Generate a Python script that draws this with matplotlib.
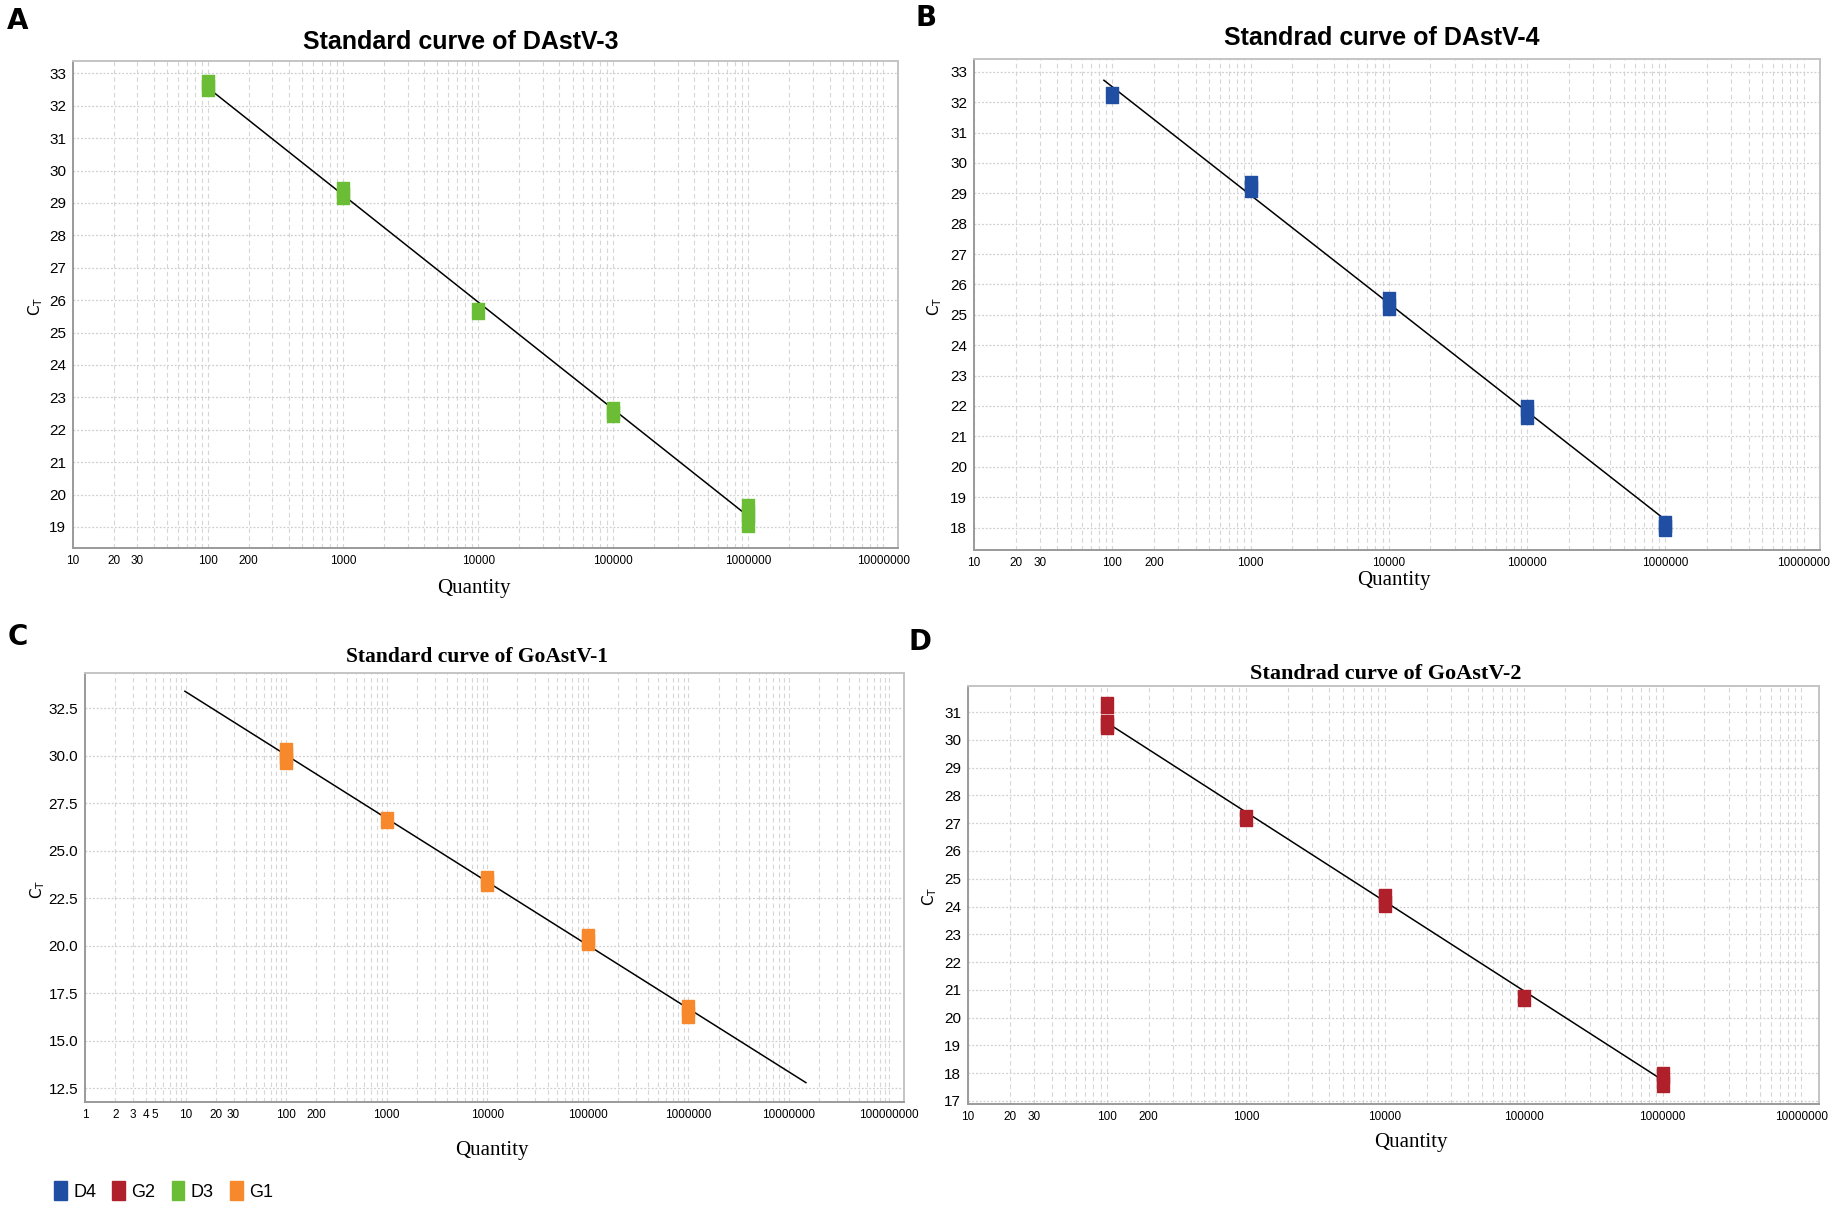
import numpy as np
import matplotlib
matplotlib.use("Agg")
import matplotlib.pyplot as plt
from matplotlib.patches import Patch
from matplotlib.ticker import FixedLocator, LogLocator, NullFormatter

W, H = 1835, 1205
NARROW = ["Liberation Sans Narrow", "Liberation Sans", "DejaVu Sans"]
SERIF = ["Liberation Serif", "DejaVu Serif"]

# ---- data ------------------------------------------------------------------
quantities = [1e2, 1e3, 1e4, 1e5, 1e6]

ct_d3 = [[32.55, 32.7], [29.2, 29.4], [25.65], [22.5, 22.6], [19.1, 19.4, 19.6]]
ct_d4 = [[32.25], [29.15, 29.3], [25.27, 25.5], [21.67, 21.94], [18.0, 18.1]]
ct_g1 = [[29.75, 30.0, 30.25], [26.62], [23.3, 23.5], [20.2, 20.45], [16.35, 16.75]]
ct_g2 = [[30.5, 30.62, 31.25], [27.2], [24.1, 24.35], [20.7], [17.6, 17.95]]

# fitted standard lines: (x start, x end), (ct start, ct end)
fit_d3 = ([1e2, 1e6], [32.55, 19.33])
fit_d4 = ([87, 1e6], [32.72, 18.25])
fit_g1 = ([9.85, 1.48e7], [33.4, 12.8])
fit_g2 = ([1e2, 1e6], [30.62, 17.75])

colors = {"D4": "#1f4ea3", "G2": "#b0202b", "D3": "#6abd35", "G1": "#f7892c"}

xlabels_10 = [10, 20, 30, 100, 200, 1000, 10000, 100000, 1000000, 10000000]
xlabels_1 = [1, 2, 3, 4, 5, 10, 20, 30, 100, 200, 1000, 10000, 100000,
             1000000, 10000000, 100000000]

# marker: narrow upright rectangle
rect = [(-0.4, -0.5), (0.4, -0.5), (0.4, 0.5), (-0.4, 0.5), (-0.4, -0.5)]


def px_box(left, top, right, bottom):
    return [left / W, 1 - bottom / H, (right - left) / W, (bottom - top) / H]


def draw_panel(ax, cts, fit, color, xlim, ylim, yticks, yfmt, xlabs):
    for q, vals in zip(quantities, cts):
        ax.plot([q] * len(vals), vals, linestyle="none", marker=rect,
                markersize=11.5, color=color, markeredgecolor=color, zorder=3)
    ax.plot(fit[0], fit[1], color="black", lw=1.1, zorder=2)
    ax.set_xscale("log")
    ax.set_xlim(*xlim)
    ax.set_ylim(*ylim)
    ax.xaxis.set_major_locator(FixedLocator(xlabs))
    ax.set_xticklabels([str(v) for v in xlabs], family=NARROW, fontsize=8.5)
    ax.xaxis.set_minor_locator(LogLocator(base=10, subs=np.arange(1, 10)))
    ax.xaxis.set_minor_formatter(NullFormatter())
    ax.set_yticks(yticks)
    ax.set_yticklabels([yfmt.format(v) for v in yticks], family=NARROW, fontsize=11)
    ax.tick_params(axis="both", which="both", length=0, pad=5)
    ax.grid(True, axis="x", which="both", color="#d6d6d6", lw=0.8, ls=(0, (4, 3)))
    ax.grid(True, axis="y", which="major", color="#cfcfcf", lw=0.9, ls=(0, (1.5, 1.5)))
    ax.set_axisbelow(True)
    for s in ["top", "right"]:
        ax.spines[s].set_color("#c4c4c4")
        ax.spines[s].set_linewidth(1.4)
    for s in ["bottom", "left"]:
        ax.spines[s].set_color("#9a9a9a")
        ax.spines[s].set_linewidth(1.4)


fig = plt.figure(figsize=(W / 100, H / 100), dpi=100)

ax_a = fig.add_axes(px_box(73, 61, 898, 548))
draw_panel(ax_a, ct_d3, fit_d3, colors["D3"], (10, 10 ** 7.109), (18.35, 33.38),
           list(range(19, 34)), "{:d}", xlabels_10)

ax_b = fig.add_axes(px_box(974, 59, 1820, 550))
draw_panel(ax_b, ct_d4, fit_d4, colors["D4"], (10, 10 ** 7.118), (17.26, 33.42),
           list(range(18, 34)), "{:d}", xlabels_10)

ax_c = fig.add_axes(px_box(85, 673, 904, 1102))
draw_panel(ax_c, ct_g1, fit_g1, colors["G1"], (1, 10 ** 8.146), (11.78, 34.36),
           list(np.arange(12.5, 33, 2.5)), "{:.1f}", xlabels_1)

ax_d = fig.add_axes(px_box(968, 686, 1819, 1104))
draw_panel(ax_d, ct_g2, fit_g2, colors["G2"], (10, 10 ** 7.126), (16.89, 31.94),
           list(range(17, 32)), "{:d}", xlabels_10)


def ftext(x, y, s, **kw):
    fig.text(x / W, 1 - y / H, s, ha="center", va="center", **kw)


# titles
ftext(461, 42, "Standard curve of DAstV-3", family=NARROW, fontsize=18, fontweight="bold")
ftext(1382, 38, "Standrad curve of DAstV-4", family=NARROW, fontsize=18, fontweight="bold")
ftext(477, 657, "Standard curve of GoAstV-1", family=SERIF, fontsize=15.5, fontweight="bold")
ftext(1386, 674, "Standrad curve of GoAstV-2", family=SERIF, fontsize=16, fontweight="bold")

# x labels
ftext(474, 588, "Quantity", family=SERIF, fontsize=15)
ftext(1394, 580, "Quantity", family=SERIF, fontsize=15)
ftext(492, 1150, "Quantity", family=SERIF, fontsize=15)
ftext(1411, 1142, "Quantity", family=SERIF, fontsize=15)

# y labels
for x, y in [(36, 306), (935, 306), (38, 889), (930, 896)]:
    ftext(x, y, r"C$_\mathregular{T}$", family="DejaVu Sans", fontsize=11, rotation=90)

# panel letters
for x, y, s in [(18, 21, "A"), (926, 18, "B"), (18, 637, "C"), (920, 642, "D")]:
    ftext(x, y, s, family="DejaVu Sans", fontsize=20, fontweight="bold")

# legend
handles = [Patch(facecolor=colors[k], edgecolor=colors[k]) for k in colors]
fig.legend(handles, list(colors.keys()), loc="center left",
           bbox_to_anchor=(38 / W, 1 - 1191 / H), ncol=4, frameon=False,
           prop={"family": NARROW, "size": 13}, handlelength=0.7,
           handleheight=1.2, handletextpad=0.35, columnspacing=0.9)

fig.savefig("out.png", dpi=100)
